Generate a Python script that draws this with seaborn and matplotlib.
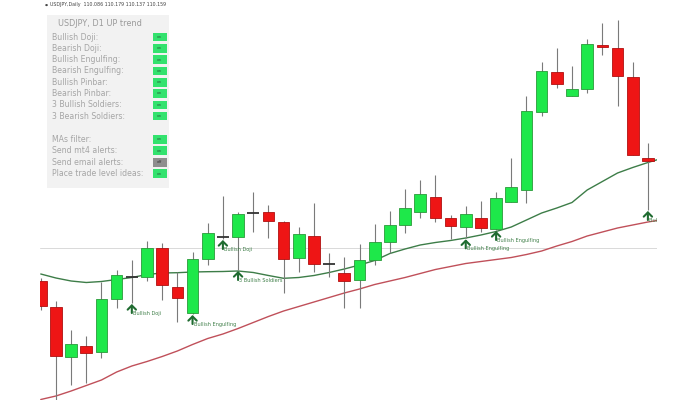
import pandas as pd
import matplotlib.pyplot as plt
from matplotlib.patches import Rectangle
from matplotlib.transforms import offset_copy
import seaborn as sns

# USDJPY daily bars
opens = [110.19, 109.93, 109.433, 109.543, 109.477, 110.007, 110.23, 110.227, 110.517, 110.127,
         109.867, 110.407, 110.633, 110.633, 110.867, 110.883, 110.783, 110.423, 110.64, 110.357,
         110.273, 110.20, 110.405, 110.577, 110.75, 110.88, 111.027, 110.817, 110.733, 110.817,
         110.707, 110.983, 111.10, 111.883, 112.277, 112.043, 112.107, 112.55, 112.523, 112.233,
         111.42]
highs = [110.22, 109.99, 109.70, 109.643, 110.183, 110.30, 110.40, 110.593, 110.567, 110.283,
         110.483, 110.767, 111.04, 110.88, 111.083, 110.95, 110.79, 110.733, 110.967, 110.467,
         110.427, 110.56, 110.765, 110.89, 111.107, 111.20, 111.25, 110.85, 110.94, 110.99,
         111.083, 111.425, 112.04, 112.383, 112.517, 112.34, 112.607, 112.773, 112.80, 112.383,
         111.567]
lows = [109.90, 108.98, 109.15, 109.17, 109.423, 109.92, 109.97, 110.19, 110.00, 109.783,
        109.86, 110.35, 110.61, 110.30, 110.683, 110.617, 110.067, 110.283, 110.283, 110.227,
        109.92, 109.92, 110.35, 110.467, 110.673, 110.817, 110.783, 110.607, 110.617, 110.683,
        110.70, 110.98, 110.973, 111.84, 112.117, 112.043, 112.067, 112.45, 111.94, 111.45,
        110.90]
closes = [109.94, 109.44, 109.56, 109.473, 110.007, 110.247, 110.23, 110.517, 110.15, 110.017,
          110.407, 110.667, 110.633, 110.857, 110.867, 110.793, 110.407, 110.657, 110.357, 110.357,
          110.19, 110.40, 110.58, 110.75, 110.917, 111.06, 110.817, 110.743, 110.86, 110.723,
          111.023, 111.125, 111.89, 112.293, 112.16, 112.11, 112.56, 112.535, 112.24, 111.45,
          111.39]

# moving averages (one more point than bars, the line runs off the right edge)
ma_fast = [110.26, 110.22, 110.19, 110.175, 110.185, 110.205, 110.225, 110.255, 110.27, 110.273,
           110.28, 110.283, 110.285, 110.29, 110.275, 110.245, 110.217, 110.225, 110.245, 110.275,
           110.31, 110.35, 110.395, 110.465, 110.51, 110.55, 110.575, 110.595, 110.62, 110.65,
           110.685, 110.73, 110.80, 110.87, 110.92, 110.975, 111.10, 111.185, 111.27, 111.325,
           111.375, 111.42]
ma_slow = [109.005, 109.04, 109.09, 109.145, 109.20, 109.28, 109.34, 109.385, 109.435, 109.49,
           109.555, 109.615, 109.66, 109.715, 109.775, 109.835, 109.89, 109.935, 109.98, 110.025,
           110.07, 110.11, 110.155, 110.19, 110.225, 110.265, 110.305, 110.335, 110.365, 110.385,
           110.405, 110.425, 110.455, 110.49, 110.54, 110.585, 110.64, 110.68, 110.72, 110.75,
           110.78, 110.805]

signal_bars = [6, 10, 12, 13, 28, 30, 40]
signal_labels = ["Bullish Doji", "Bullish Engulfing", "Bullish Doji", "3 Bullish Soldiers",
                 "Bullish Engulfing", "Bullish Engulfing", "Bullish Engulfing"]

level_price = 110.52
header = "USDJPY,Daily  110.086 110.179 110.137 110.159"

panel_title = "USDJPY, D1 UP trend"
pattern_rows = ["Bullish Doji:", "Bearish Doji:", "Bullish Engulfing:", "Bearish Engulfing:",
                "Bullish Pinbar:", "Bearish Pinbar:", "3 Bullish Soldiers:", "3 Bearish Soldiers:"]
setting_rows = ["MAs filter:", "Send mt4 alerts:", "Send email alerts:", "Place trade level ideas:"]
setting_states = ["on", "on", "off", "on"]

df = pd.DataFrame({"open": opens, "high": highs, "low": lows, "close": closes})
df["bar"] = range(len(df))

GREEN = "#1ee84a"
RED = "#ee1515"

sns.set_style("white")
W, H = 700, 400
fig = plt.figure(figsize=(7, 4), dpi=100)
ax = fig.add_axes([40 / W, 0, 617 / W, 1])
ax.set_xlim(-0.05, 40.6)
ax.set_ylim(109.0, 113.0)
ax.axis("off")

ax.axhline(level_price, color="#d9d9d9", lw=0.7, zorder=1)

ma_df = pd.DataFrame({"bar": range(len(ma_fast)), "fast": ma_fast, "slow": ma_slow})
sns.lineplot(data=ma_df, x="bar", y="slow", ax=ax, color="#c0505a", lw=1.0, zorder=2)
sns.lineplot(data=ma_df, x="bar", y="fast", ax=ax, color="#3d7d48", lw=1.0, zorder=2)

# wicks
ax.vlines(df["bar"], df["low"], df["high"], color="#7a7a7a", lw=0.8, zorder=3)

# bodies
up = df[df["close"] > df["open"]]
dn = df[df["close"] < df["open"]]
doji = df[df["close"] == df["open"]]
ax.bar(up["bar"], up["close"] - up["open"], bottom=up["open"], width=0.77,
       color=GREEN, edgecolor="#2a9a3a", lw=0.6, zorder=4)
ax.bar(dn["bar"], dn["open"] - dn["close"], bottom=dn["close"], width=0.77,
       color=RED, edgecolor="#b01010", lw=0.6, zorder=4)
ax.hlines(doji["open"], doji["bar"] - 0.38, doji["bar"] + 0.38, color="#333333", lw=1.3, zorder=4)

# pattern arrows + labels
label_tr = offset_copy(ax.transData, fig=fig, x=1, y=-7.5, units="points")
for b, lab in zip(signal_bars, signal_labels):
    lo = lows[b]
    ax.annotate("", xy=(b, lo - 0.01), xytext=(0, -6.5), textcoords="offset points",
                arrowprops=dict(arrowstyle="->,head_width=0.3,head_length=0.3",
                                color="#1f6b30", lw=1.5, shrinkA=0, shrinkB=0), zorder=5)
    ax.text(b, lo, lab, transform=label_tr, fontsize=3.6, color="#3f7f48",
            va="center", ha="left", zorder=5, clip_on=True)

# header line
fig.text(45 / W, 1 - 4.5 / H, "\u25cf", fontsize=2.5, color="#444444", va="center")
fig.text(50 / W, 1 - 4.5 / H, header, fontsize=3.4, color="#444444", va="center")


def px(x, y):
    return x / W, 1 - y / H


# settings panel
fig.add_artist(Rectangle(px(47, 188), 122 / W, 173 / H, transform=fig.transFigure,
                         facecolor="#f2f2f2", edgecolor="none", zorder=6))
fig.text(*px(58, 23), panel_title, fontsize=5.9, color="#9a9a9a", va="center", zorder=7)

row_y = [37 + 11.3 * k for k in range(len(pattern_rows))]
row_y += [139.3 + 11.45 * k for k in range(len(setting_rows))]
labels = pattern_rows + setting_rows
states = ["on"] * len(pattern_rows) + setting_states
for y, lab, st in zip(row_y, labels, states):
    fig.text(*px(52.5, y), lab, fontsize=5.6, color="#a5a5a5", va="center", zorder=7)
    fc = "#33e26e" if st == "on" else "#8e8e8e"
    fig.add_artist(Rectangle(px(152.5, y + 4.3), 14 / W, 8.6 / H, transform=fig.transFigure,
                             facecolor=fc, edgecolor="none", zorder=7))
    fig.text(*px(159.5, y), st, fontsize=2.8, color="#2a5a3a" if st == "on" else "#333333",
             ha="center", va="center", zorder=8)

fig.savefig("out.png", dpi=100)
